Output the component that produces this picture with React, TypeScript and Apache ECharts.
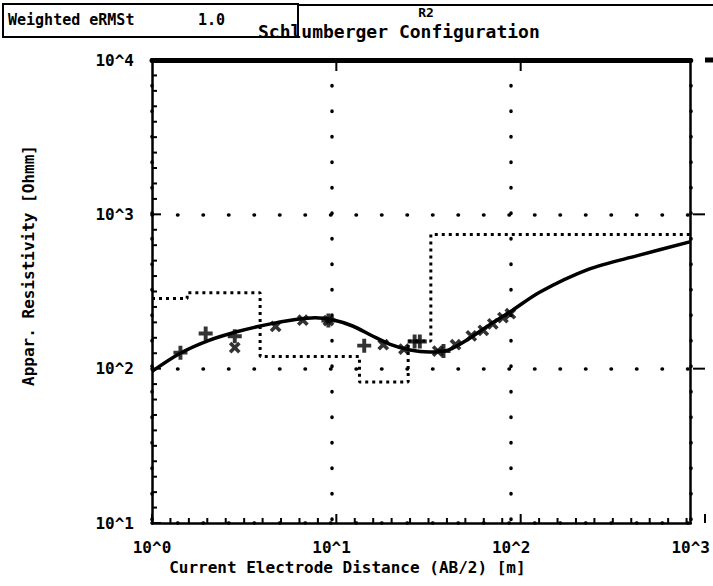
import React, { useEffect, useRef } from "react";
import * as echarts from "echarts";

// Tick labels (one per decade)
const xTickLabels = ["10^0", "10^1", "10^2", "10^3"];
const yTickLabels = ["10^1", "10^2", "10^3", "10^4"];

// Calculated (model) apparent-resistivity curve
const curveX = [1, 1.42, 2.06, 3.0, 4.36, 6.3, 8.1, 10, 13.1, 16.7, 21.4, 27.3, 35, 44.5, 57, 77, 99, 144, 269, 505, 1000];
const curveY = [96, 125, 152, 174, 193, 208, 214, 208, 189, 164, 143, 132, 128, 132, 154, 195, 234, 313, 440, 540, 665];

// Layered model (boundaries in AB/2 units, resistivities per layer)
const layerBounds = [1.57, 4.0, 14.3, 26.7, 35.7];
const layerRes = [285, 310, 120, 82, 151, 740];

// Field data: "+" and "x" markers
const plusX = [1.44, 1.99, 2.89, 9.6, 15.2, 29, 31, 42];
const plusY = [127, 169, 162, 205, 141, 150, 150, 130];
const crossX = [2.89, 4.88, 6.92, 9.6, 19.4, 25.3, 39, 49, 60, 70, 79, 90, 99];
const crossY = [137, 188, 206, 205, 143, 134, 130, 143, 163, 177, 195, 214, 227];

const FONT = "DejaVu Sans Mono";
const PLUS = "path://M0,3.6h10v2.8h-10z M3.6,0h2.8v10h-2.8z";

// Plot frame geometry
const W = 713;
const H = 586;
const G = { left: 152, right: 8, top: 60, bottom: 63 };

export default function App() {
  const ref = useRef<HTMLDivElement>(null);
  useEffect(() => {
    document.body.style.margin = "0";
    const chart = echarts.init(ref.current!, null, { renderer: "svg" });

    const modelPts: number[][] = [];
    let start = 1;
    layerRes.forEach((r, i) => {
      const end = i < layerBounds.length ? layerBounds[i] : 1000;
      modelPts.push([start, r]);
      modelPts.push([end, r]);
      start = end;
    });

    const dotted = { color: "#000", width: 3.5, type: [0.5, 25] as any, cap: "round" as any };
    const labelStyle = { fontFamily: FONT, fontWeight: "bold" as any, fontSize: 16, color: "#000" };

    // Frame tick marks in exponent units (10 steps per decade)
    const x0 = G.left;
    const x1 = W - G.right;
    const y0 = G.top;
    const y1 = H - G.bottom;
    const ex = (e: number) => x0 + (e / 3) * (x1 - x0);
    const ey = (e: number) => y1 - ((e - 1) / 3) * (y1 - y0);
    const tickGraphics: any[] = [];
    const seg = (a: number, b: number, c: number, d: number) =>
      tickGraphics.push({ type: "line", silent: true, z: 10, shape: { x1: a, y1: b, x2: c, y2: d }, style: { stroke: "#000", lineWidth: 2 } });
    for (let j = 0; j <= 30; j++) {
      const len = j % 10 === 0 ? 9 : 5;
      const xe = ex(j / 10);
      seg(xe, y1, xe, y1 - len); // bottom
      const ye = ey(1 + j / 10);
      seg(x0, ye, x0 + len, ye); // left
    }
    [1, 2].forEach((e) => seg(ex(e), y0, ex(e), y0 + 11)); // top
    [2, 3].forEach((e) => seg(x1, ey(e), x1 - 12, ey(e))); // right

    chart.setOption({
      animation: false,
      backgroundColor: "#fff",
      grid: G,
      xAxis: [
        {
          type: "value",
          min: 0,
          max: 3,
          interval: 1,
          position: "bottom",
          name: "Current Electrode Distance (AB/2) [m]",
          nameLocation: "middle",
          nameGap: 36,
          nameTextStyle: { ...labelStyle, padding: [0, 148, 0, 0] },
          axisLine: { show: true, lineStyle: { color: "#000", width: 2.5 } },
          axisTick: { show: false },
          axisLabel: { formatter: (v: number) => xTickLabels[Math.round(v)] ?? "", margin: 16, ...labelStyle },
          splitLine: { show: true, lineStyle: dotted },
        },
        {
          type: "log",
          logBase: 10,
          min: 1,
          max: 1000,
          position: "top",
          axisLine: { show: true, lineStyle: { color: "#000", width: 5 } },
          axisTick: { show: false },
          axisLabel: { show: false },
          splitLine: { show: false },
        },
      ],
      yAxis: [
        {
          type: "value",
          min: 1,
          max: 4,
          interval: 1,
          position: "left",
          name: "Appar. Resistivity [Ohmm]",
          nameLocation: "middle",
          nameGap: 116,
          nameTextStyle: { ...labelStyle, padding: [0, 0, 0, 52] },
          axisLine: { show: true, lineStyle: { color: "#000", width: 2.5 } },
          axisTick: { show: false },
          axisLabel: { formatter: (v: number) => yTickLabels[Math.round(v) - 1] ?? "", margin: 18, ...labelStyle },
          splitLine: { show: true, lineStyle: dotted },
        },
        {
          type: "log",
          logBase: 10,
          min: 10,
          max: 10000,
          position: "right",
          axisLine: { show: true, lineStyle: { color: "#000", width: 2.5 } },
          axisTick: { show: false },
          axisLabel: { show: false },
          splitLine: { show: false },
        },
      ],
      series: [
        {
          type: "line",
          name: "model",
          xAxisIndex: 1,
          yAxisIndex: 1,
          data: modelPts,
          showSymbol: false,
          lineStyle: { color: "#000", width: 3, type: [3, 4] },
          z: 2,
        },
        {
          type: "line",
          name: "calculated",
          xAxisIndex: 1,
          yAxisIndex: 1,
          data: curveX.map((x, i) => [x, curveY[i]]),
          smooth: 0.3,
          showSymbol: false,
          lineStyle: { color: "#000", width: 3.5 },
          z: 3,
        },
        {
          type: "scatter",
          name: "plus",
          xAxisIndex: 1,
          yAxisIndex: 1,
          data: plusX.map((x, i) => [x, plusY[i]]),
          symbol: PLUS,
          symbolSize: 14,
          itemStyle: { color: "#000" },
          z: 4,
        },
        {
          type: "scatter",
          name: "cross",
          xAxisIndex: 1,
          yAxisIndex: 1,
          data: crossX.map((x, i) => [x, crossY[i]]),
          symbol: PLUS,
          symbolSize: 13,
          symbolRotate: 45,
          itemStyle: { color: "#000" },
          z: 4,
        },
      ],
      graphic: [
        { type: "rect", shape: { x: 3, y: 4, width: 295, height: 33 }, style: { fill: "none", stroke: "#000", lineWidth: 2 } },
        { type: "line", shape: { x1: 298, y1: 5, x2: 713, y2: 5 }, style: { stroke: "#000", lineWidth: 2 } },
        { type: "line", shape: { x1: 705, y1: 60, x2: 713, y2: 60 }, style: { stroke: "#000", lineWidth: 5 } },
        { type: "text", x: 8, y: 20, style: { text: "Weighted eRMSt", font: `bold 15px '${FONT}'`, fill: "#000", verticalAlign: "middle" } },
        { type: "text", x: 198, y: 20, style: { text: "1.0", font: `bold 15px '${FONT}'`, fill: "#000", verticalAlign: "middle" } },
        { type: "text", x: 426, y: 12, style: { text: "R2", font: `bold 13px '${FONT}'`, fill: "#000", align: "center", verticalAlign: "middle" } },
        { type: "text", x: 258, y: 31, style: { text: "Schlumberger Configuration", font: `bold 18px '${FONT}'`, fill: "#000", verticalAlign: "middle" } },
        ...tickGraphics,
      ],
    });

    return () => chart.dispose();
  }, []);
  return <div ref={ref} style={{ width: W, height: H }} />;
}
